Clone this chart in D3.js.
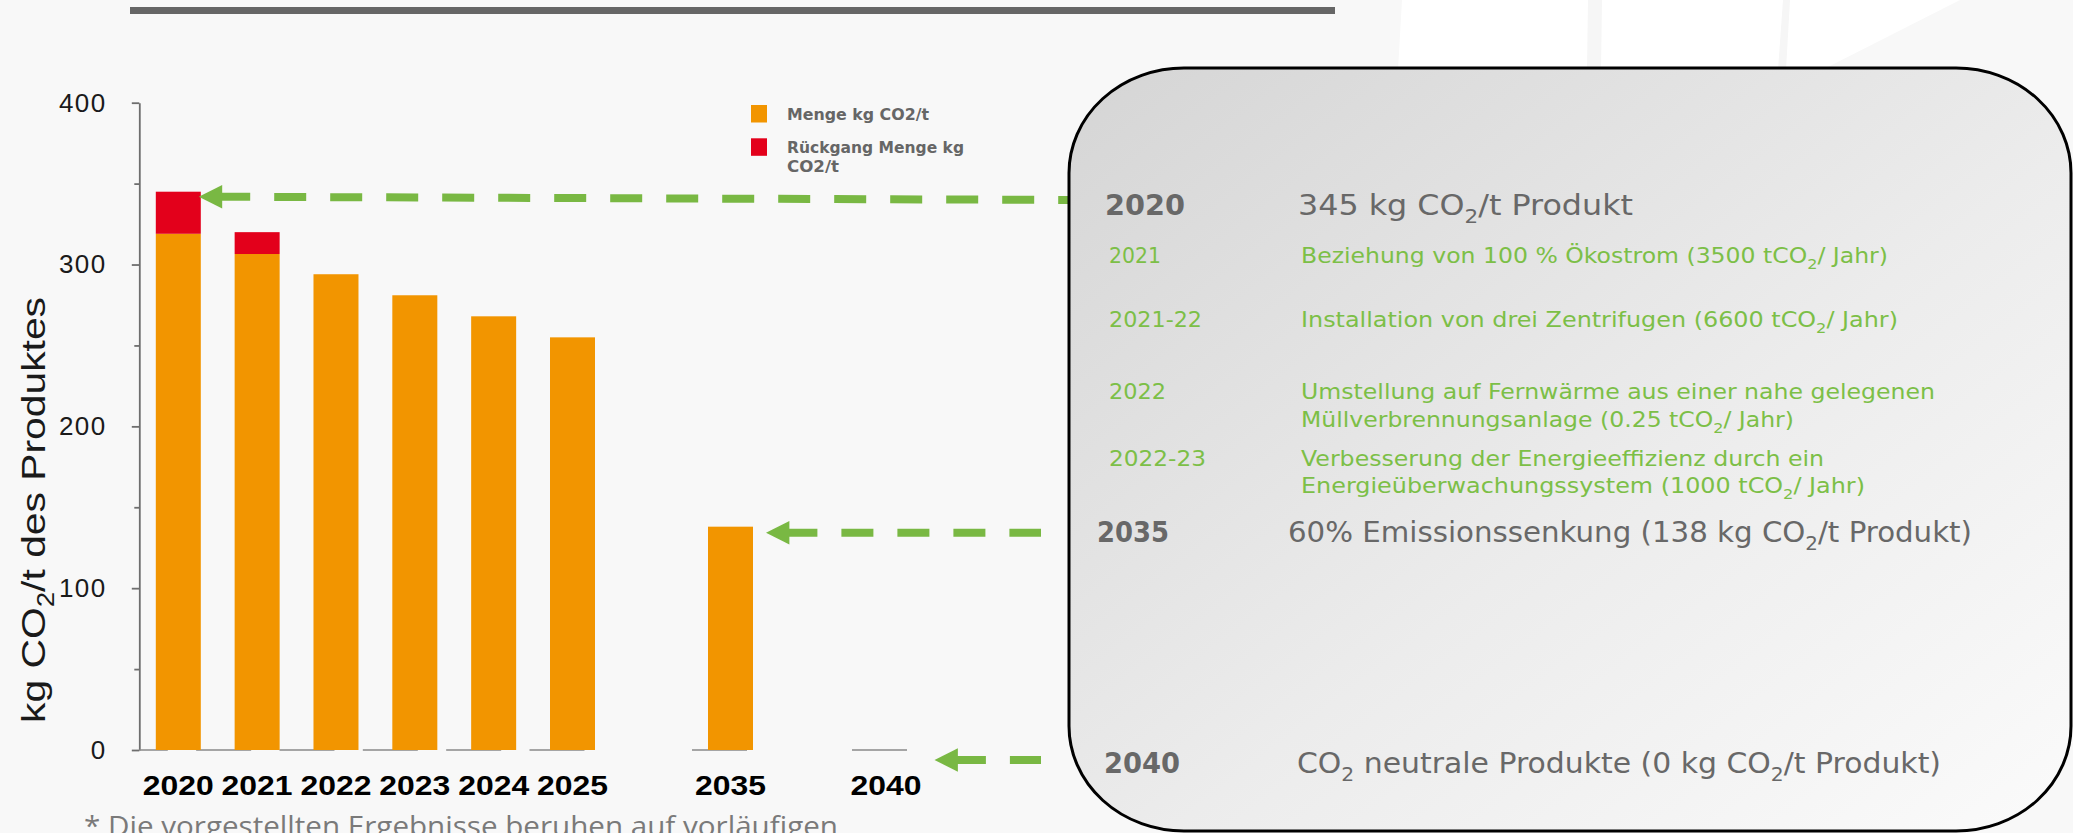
<!DOCTYPE html>
<html><head><meta charset="utf-8">
<script src="https://cdn.jsdelivr.net/npm/d3@7"></script>
<style>
html,body{margin:0;padding:0;background:#f8f8f8;overflow:hidden}
svg{display:block}
</style></head><body>
<svg id="c" width="2073" height="833"></svg>
<script>
// ---------- DATA ----------
const years = ["2020","2021","2022","2023","2024","2025","2035","2040"];
const menge = [319, 306.5, 294, 281, 268, 255, 138, 0];
const rueckgang = [26, 13.5, 0, 0, 0, 0, 0, 0];
const yTicks = [0, 100, 200, 300, 400];
const yMinorTicks = [50, 150, 250, 350];
const yTitle = "kg CO₂/t des Produktes";
const legendLines = [["Menge kg CO2/t"], ["Rückgang Menge kg", "CO2/t"]];
const arrowTargets = ["2020", "2035", "2040"];
const boxYears = ["2020", "2021", "2021-22", "2022", "2022-23", "2035", "2040"];
const boxTexts = [
  ["345 kg CO₂/t Produkt"],
  ["Beziehung von 100 % Ökostrom (3500 tCO₂/ Jahr)"],
  ["Installation von drei Zentrifugen (6600 tCO₂/ Jahr)"],
  ["Umstellung auf Fernwärme aus einer nahe gelegenen", "Müllverbrennungsanlage (0.25 tCO₂/ Jahr)"],
  ["Verbesserung der Energieeffizienz durch ein", " Energieüberwachungssystem (1000 tCO₂/ Jahr)"],
  ["60% Emissionssenkung (138 kg CO₂/t Produkt)"],
  ["CO₂ neutrale Produkte (0 kg CO₂/t Produkt)"]
];
const footnote = "* Die vorgestellten Ergebnisse beruhen auf vorläufigen";

// ---------- LAYOUT ----------
const svg = d3.select("#c");
const ORANGE = "#f29500", RED = "#e3001b", GREEN = "#79b843", GTEXT = "#7cbf47", GRAY = "#686868";
const FONT = "'Open Sans', 'Liberation Sans', Arial, sans-serif";
const BOXFONT = "'DejaVu Sans', 'Open Sans', sans-serif";
const barW = 45;

const x = d3.scaleLinear().domain([2020, 2025, 2035, 2040]).range([178.3, 572.5, 730.5, 886]);
const y = d3.scaleLinear().domain([0, 400]).range([750, 102.7]);

// background decoration (white watermark shapes, top right)
const bg = svg.append("g");
bg.append("path").attr("d", "M1402,0 L1960,0 L1822,70 L1398,70 Z").attr("fill", "#ffffff");
bg.append("path").attr("d", "M1588,0 L1602,0 L1601,70 L1587,70 Z").attr("fill", "#f6f6f6");
bg.append("path").attr("d", "M1783,0 L1790,0 L1786,70 L1778,70 Z").attr("fill", "#f6f6f6");

// top gray rule
svg.append("rect").attr("x", 130).attr("y", 7).attr("width", 1205).attr("height", 7).attr("fill", "#666");

// y axis
const axisX = 139.3;
const yAxis = svg.append("g").attr("transform", `translate(${axisX},0)`)
  .call(d3.axisLeft(y).tickValues(yTicks).tickSize(7.5).tickSizeOuter(0).tickPadding(25));
yAxis.select(".domain").attr("stroke", "#6e6e6e").attr("stroke-width", 1.8);
yAxis.selectAll(".tick line").attr("stroke", "#6e6e6e").attr("stroke-width", 1.8);
yAxis.selectAll(".tick text").attr("font-family", "'Liberation Sans', Arial, sans-serif")
  .attr("font-size", 26).attr("fill", "#1a1a1a").attr("letter-spacing", 1.5);
const yMinor = svg.append("g").attr("transform", `translate(${axisX},0)`)
  .call(d3.axisLeft(y).tickValues(yMinorTicks).tickSize(5).tickFormat(""));
yMinor.select(".domain").remove();
yMinor.selectAll(".tick line").attr("stroke", "#6e6e6e").attr("stroke-width", 1.8);

// rich text helper (subscript 2)
function addRich(sel, str, fs) {
  const parts = str.split("₂");
  const shift = fs * 0.28;
  parts.forEach((p, i) => {
    if (i > 0) {
      sel.append("tspan").attr("font-size", fs * 0.68).attr("dy", shift).text("2");
      sel.append("tspan").attr("dy", -shift).text(p.length ? p : "\u200b");
    } else if (p.length) {
      sel.append("tspan").text(p);
    }
  });
}
const yt = svg.append("text")
  .attr("transform", `translate(44.5,510) rotate(-90)`)
  .attr("text-anchor", "middle").attr("font-family", "'Liberation Sans', Arial, sans-serif")
  .attr("font-size", 34).attr("fill", "#1a1a1a")
  .attr("textLength", 426).attr("lengthAdjust", "spacingAndGlyphs");
addRich(yt, yTitle, 34);

// small baseline segments under each category
const data = years.map((yr, i) => ({ yr, i, m: menge[i], r: rueckgang[i] }));
svg.append("g").selectAll("line").data(data).join("line")
  .attr("x1", d => Math.max(axisX, x(+d.yr) - 38 + 4.5 * d.i - 27.5))
  .attr("x2", d => x(+d.yr) - 38 + 4.5 * d.i + 27.5)
  .attr("y1", y(0)).attr("y2", y(0))
  .attr("stroke", "#8a8a8a").attr("stroke-width", 1.5);

// bars
const bars = svg.append("g");
bars.selectAll("rect.m").data(data.filter(d => d.m > 0)).join("rect").attr("class", "m")
  .attr("x", d => x(+d.yr) - barW / 2).attr("width", barW)
  .attr("y", d => y(d.m)).attr("height", d => y(0) - y(d.m)).attr("fill", ORANGE);
bars.selectAll("rect.r").data(data.filter(d => d.r > 0)).join("rect").attr("class", "r")
  .attr("x", d => x(+d.yr) - barW / 2).attr("width", barW)
  .attr("y", d => y(d.m + d.r)).attr("height", d => y(d.m) - y(d.m + d.r)).attr("fill", RED);

// x labels
svg.append("g").selectAll("text").data(data).join("text")
  .attr("x", d => x(+d.yr)).attr("y", 795)
  .attr("text-anchor", "middle").attr("font-family", "'Liberation Sans', Arial, sans-serif")
  .attr("font-weight", "bold").attr("font-size", 27).attr("fill", "#000")
  .attr("textLength", 71).attr("lengthAdjust", "spacingAndGlyphs")
  .text(d => d.yr);

// legend
const legColors = [ORANGE, RED];
const legY = [105, 138.3];
const legW = [[142], [177, 52]];
const lg = svg.append("g");
legendLines.forEach((lines, i) => {
  lg.append("rect").attr("x", 751).attr("y", legY[i]).attr("width", 16).attr("height", 17.5).attr("fill", legColors[i]);
  lines.forEach((ln, j) => {
    lg.append("text").attr("x", 787).attr("y", legY[i] + 15 + j * 19)
      .attr("font-family", BOXFONT).attr("font-weight", "bold").attr("font-size", 16)
      .attr("fill", "#666").attr("textLength", legW[i][j]).attr("lengthAdjust", "spacingAndGlyphs").text(ln);
  });
});

// arrows
const tipOff = [-2, 13, 26], yOff = [5, 6, 10], endX = [1080, 1041, 1041], endDy = [3.3, 0, 0];
const ag = svg.append("g");
arrowTargets.forEach((yr, k) => {
  const i = years.indexOf(yr);
  const tx = x(+yr) + barW / 2 + tipOff[k];
  const ty = y(menge[i] + rueckgang[i]) + yOff[k];
  ag.append("line").attr("x1", tx + 19.4).attr("y1", ty).attr("x2", endX[k]).attr("y2", ty + endDy[k])
    .attr("stroke", GREEN).attr("stroke-width", 8).attr("stroke-dasharray", "32,24");
  ag.append("path").attr("d", `M${tx},${ty} L${tx + 23.4},${ty - 11.7} L${tx + 23.4},${ty + 11.7} Z`)
    .attr("fill", GREEN);
});

// box
const defs = svg.append("defs");
const grad = defs.append("linearGradient").attr("id", "bg").attr("x1", 0).attr("y1", 0).attr("x2", 1).attr("y2", 1);
grad.append("stop").attr("offset", 0).attr("stop-color", "#d5d5d5");
grad.append("stop").attr("offset", 0.55).attr("stop-color", "#ececec");
grad.append("stop").attr("offset", 1).attr("stop-color", "#fbfbfb");
svg.append("rect").attr("x", 1069).attr("y", 68).attr("width", 1002).attr("height", 763)
  .attr("rx", 115).attr("ry", 105).attr("fill", "url(#bg)").attr("stroke", "#000").attr("stroke-width", 3);

// box texts
const rowStyle = [
  { big: true, yx: 1105, yw: 80, tx: 1298, base: [215], tw: [335] },
  { big: false, yx: 1109, yw: 52, tx: 1301, base: [263], tw: [587] },
  { big: false, yx: 1109, yw: 93, tx: 1301, base: [327], tw: [597] },
  { big: false, yx: 1109, yw: 57, tx: 1301, base: [399, 427], tw: [634, 493] },
  { big: false, yx: 1109, yw: 97, tx: 1301, base: [466, 493], tw: [523, 564] },
  { big: true, yx: 1097, yw: 72, tx: 1288, base: [542], tw: [684] },
  { big: true, yx: 1104, yw: 76, tx: 1297, base: [773], tw: [644] }
];
const bx = svg.append("g");
boxYears.forEach((yr, i) => {
  const s = rowStyle[i];
  const col = s.big ? GRAY : GTEXT;
  const fs = s.big ? 28 : 21;
  bx.append("text").attr("x", s.yx).attr("y", s.base[0])
    .attr("font-family", BOXFONT).attr("font-weight", s.big ? "bold" : "normal")
    .attr("font-size", fs).attr("fill", col)
    .attr("textLength", s.yw).attr("lengthAdjust", "spacingAndGlyphs").text(yr);
  boxTexts[i].forEach((ln, j) => {
    const t = bx.append("text").attr("x", s.tx).attr("y", s.base[j])
      .attr("font-family", BOXFONT).attr("font-size", fs).attr("fill", col)
      .attr("textLength", s.tw[j]).attr("lengthAdjust", "spacingAndGlyphs");
    addRich(t, ln, fs);
  });
});

// footnote
svg.append("text").attr("x", 84).attr("y", 836)
  .attr("font-family", FONT).attr("font-size", 27).attr("fill", "#7a7a7a")
  .attr("textLength", 754).attr("lengthAdjust", "spacingAndGlyphs").text(footnote);
</script>
</body></html>
